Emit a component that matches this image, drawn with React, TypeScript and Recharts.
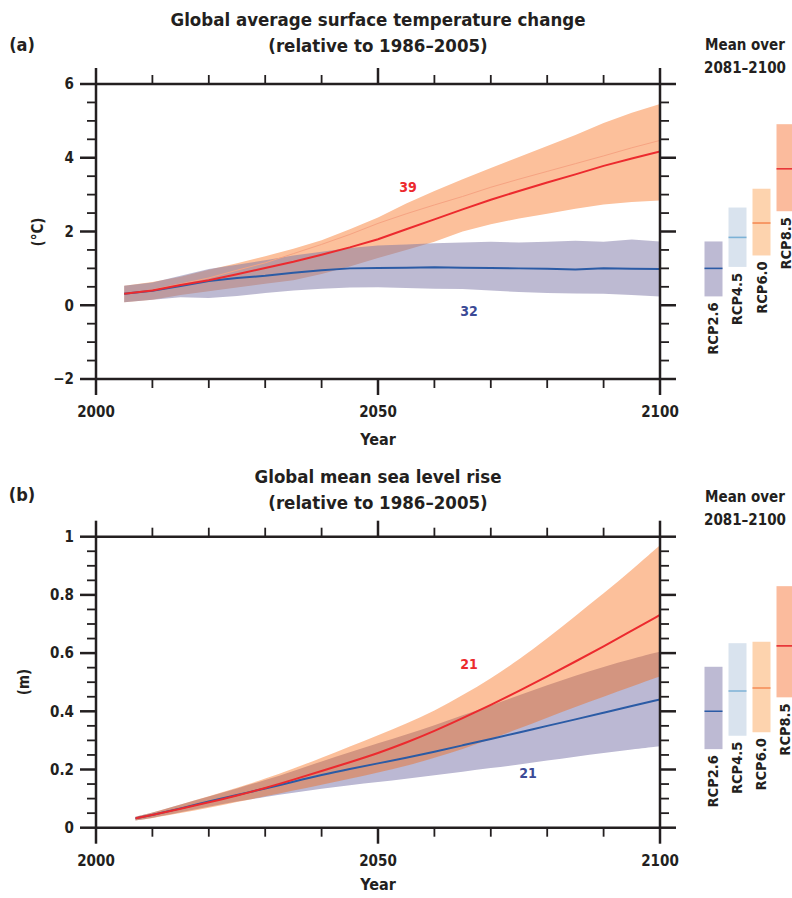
import React from 'react';
import { ComposedChart, Area, Line, XAxis, YAxis, BarChart, Bar } from 'recharts';

const FONT = '"Liberation Sans Narrow", "DejaVu Sans Condensed", "Arial Narrow", sans-serif';
const INK = '#231f20';
const RED = '#ec2a2e';
const BLUE = '#2b5ba5';

// (a) global average surface temperature change, read every 5 years
const tempYears = [2005, 2010, 2015, 2020, 2025, 2030, 2035, 2040, 2045, 2050, 2055, 2060, 2065, 2070, 2075, 2080, 2085, 2090, 2095, 2100];
const tempRcp85 = [0.31, 0.4, 0.55, 0.68, 0.84, 1.01, 1.18, 1.37, 1.57, 1.79, 2.06, 2.33, 2.6, 2.86, 3.1, 3.33, 3.55, 3.78, 3.98, 4.17];
const tempRcp85Low = [0.08, 0.15, 0.28, 0.38, 0.48, 0.58, 0.68, 0.85, 1.05, 1.28, 1.5, 1.72, 2.0, 2.2, 2.35, 2.48, 2.62, 2.73, 2.8, 2.84];
const tempRcp85High = [0.53, 0.63, 0.77, 0.96, 1.14, 1.33, 1.53, 1.76, 2.06, 2.38, 2.76, 3.1, 3.42, 3.72, 4.02, 4.32, 4.62, 4.94, 5.22, 5.46];
const tempRcp85Faint = [0.31, 0.42, 0.58, 0.74, 0.95, 1.15, 1.4, 1.65, 1.92, 2.22, 2.48, 2.72, 2.95, 3.2, 3.42, 3.63, 3.84, 4.05, 4.27, 4.47];
const tempRcp26 = [0.31, 0.39, 0.52, 0.66, 0.74, 0.8, 0.88, 0.95, 1.0, 1.01, 1.02, 1.03, 1.02, 1.01, 1.0, 0.99, 0.97, 1.0, 0.99, 0.98];
const tempRcp26Low = [0.08, 0.15, 0.22, 0.2, 0.25, 0.33, 0.4, 0.45, 0.48, 0.49, 0.47, 0.45, 0.44, 0.4, 0.36, 0.33, 0.32, 0.31, 0.28, 0.24];
const tempRcp26High = [0.53, 0.62, 0.8, 0.98, 1.1, 1.22, 1.35, 1.45, 1.55, 1.62, 1.65, 1.68, 1.7, 1.72, 1.7, 1.72, 1.75, 1.72, 1.78, 1.73];

// (b) global mean sea level rise
const seaYears = [2007, 2010, 2015, 2020, 2025, 2030, 2035, 2040, 2045, 2050, 2055, 2060, 2065, 2070, 2075, 2080, 2085, 2090, 2095, 2100];
const seaRcp85 = [0.032, 0.044, 0.065, 0.087, 0.11, 0.136, 0.165, 0.195, 0.225, 0.256, 0.292, 0.332, 0.376, 0.422, 0.47, 0.52, 0.571, 0.623, 0.677, 0.731];
const seaRcp85Low = [0.025, 0.033, 0.05, 0.068, 0.088, 0.108, 0.128, 0.148, 0.168, 0.189, 0.212, 0.24, 0.27, 0.305, 0.34, 0.378, 0.415, 0.45, 0.485, 0.52];
const seaRcp85High = [0.038, 0.052, 0.08, 0.108, 0.137, 0.168, 0.203, 0.24, 0.279, 0.318, 0.357, 0.401, 0.455, 0.513, 0.577, 0.65, 0.728, 0.805, 0.885, 0.971];
const seaRcp26 = [0.032, 0.044, 0.066, 0.09, 0.113, 0.134, 0.158, 0.182, 0.202, 0.221, 0.24, 0.261, 0.283, 0.305, 0.327, 0.35, 0.372, 0.395, 0.418, 0.441];
const seaRcp26Low = [0.025, 0.033, 0.053, 0.072, 0.09, 0.106, 0.12, 0.134, 0.146, 0.157, 0.168, 0.18, 0.192, 0.205, 0.217, 0.231, 0.244, 0.257, 0.269, 0.28];
const seaRcp26High = [0.038, 0.051, 0.08, 0.107, 0.135, 0.163, 0.195, 0.228, 0.26, 0.29, 0.32, 0.352, 0.386, 0.42, 0.455, 0.49, 0.523, 0.553, 0.58, 0.605];

// mean over 2081-2100 with likely ranges
const scenarios = ['RCP2.6', 'RCP4.5', 'RCP6.0', 'RCP8.5'];
const tempMean = [1.0, 1.84, 2.23, 3.7];
const tempLow = [0.24, 1.04, 1.35, 2.55];
const tempHigh = [1.73, 2.65, 3.16, 4.91];
const seaMean = [0.4, 0.47, 0.48, 0.625];
const seaLow = [0.27, 0.316, 0.328, 0.448];
const seaHigh = [0.553, 0.634, 0.639, 0.83];

const yearTicks = [2000, 2010, 2020, 2030, 2040, 2050, 2060, 2070, 2080, 2090, 2100];
const tempTicks = [-2, -1.5, -1, -0.5, 0, 0.5, 1, 1.5, 2, 2.5, 3, 3.5, 4, 4.5, 5, 5.5, 6];
const seaTicks = [0, 0.05, 0.1, 0.15, 0.2, 0.25, 0.3, 0.35, 0.4, 0.45, 0.5, 0.55, 0.6, 0.65, 0.7, 0.75, 0.8, 0.85, 0.9, 0.95, 1];

const barFill = ['#bdbad3', '#d9e3ee', '#fdd3ae', '#fbbb9d'];
const barMark = ['#2b5ba5', '#7cb2d6', '#f58b55', '#e8373a'];

const tempData = tempYears.map((year, i) => ({
  year,
  r85: tempRcp85[i],
  r85band: [tempRcp85Low[i], tempRcp85High[i]],
  r85faint: tempRcp85Faint[i],
  r26: tempRcp26[i],
  r26band: [tempRcp26Low[i], tempRcp26High[i]],
}));

const seaData = seaYears.map((year, i) => ({
  year,
  r85: seaRcp85[i],
  r85band: [seaRcp85Low[i], seaRcp85High[i]],
  r26: seaRcp26[i],
  r26band: [seaRcp26Low[i], seaRcp26High[i]],
}));

const tempBars = scenarios.map((name, i) => ({ name, range: [tempLow[i], tempHigh[i]], mean: tempMean[i] }));
const seaBars = scenarios.map((name, i) => ({ name, range: [seaLow[i], seaHigh[i]], mean: seaMean[i] }));

const onStep = (v: number, step: number) => Math.abs(v / step - Math.round(v / step)) < 1e-6;
const fmtNum = (v: number) => (v < 0 ? '\u2212' + Math.abs(v) : String(v));

const MAJOR = 16;
const MINOR = 9;

function makeTick(side: 'top' | 'bottom' | 'left' | 'right', step: number, labelled: boolean) {
  return (props: any) => {
    const { x, y, payload } = props;
    const v = payload.value;
    const major = onStep(v, step);
    const len = major ? MAJOR : MINOR;
    const w = major ? 2.5 : 1.8;
    let line;
    if (side === 'top') line = <line x1={x} y1={y} x2={x} y2={y - len} stroke={INK} strokeWidth={w} />;
    else if (side === 'bottom') line = <line x1={x} y1={y} x2={x} y2={y + len} stroke={INK} strokeWidth={w} />;
    else if (side === 'left') line = <line x1={x} y1={y} x2={x - len} y2={y} stroke={INK} strokeWidth={w} />;
    else line = <line x1={x} y1={y} x2={x + len} y2={y} stroke={INK} strokeWidth={w} />;
    let label = null;
    if (labelled && major) {
      if (side === 'bottom')
        label = (
          <text x={x} y={y + 33} dy="0.35em" textAnchor="middle" fontSize={15} fontWeight="bold" fill={INK}>
            {v}
          </text>
        );
      if (side === 'left')
        label = (
          <text x={x - 22} y={y} dy="0.35em" textAnchor="end" fontSize={15} fontWeight="bold" fill={INK}>
            {fmtNum(v)}
          </text>
        );
    }
    return (
      <g>
        {line}
        {label}
      </g>
    );
  };
}

function MeanBarShape(props: any) {
  const { x, y, width, height, payload, index } = props;
  const [lo, hi] = payload.range;
  const my = y + (height * (hi - payload.mean)) / (hi - lo);
  const tx = x + width / 2 + 5;
  const ty = y + height + 6;
  return (
    <g>
      <rect x={x} y={y} width={width} height={height} fill={barFill[index]} />
      <line x1={x} y1={my} x2={x + width} y2={my} stroke={barMark[index]} strokeWidth={1.6} />
      <text x={tx} y={ty} transform={`rotate(-90 ${tx} ${ty})`} textAnchor="end" fontSize={14.5} fontWeight="bold" fill={INK}>
        {payload.name}
      </text>
    </g>
  );
}

function Txt({ x, y, size = 17, color = INK, rotate = 0, children }: any) {
  return (
    <div
      style={{
        position: 'absolute',
        left: x,
        top: y,
        transform: `translate(-50%, -50%) rotate(${rotate}deg)`,
        fontSize: size,
        fontWeight: 'bold',
        color,
        whiteSpace: 'nowrap',
        lineHeight: 1,
      }}
    >
      {children}
    </div>
  );
}

const axisLine = { stroke: INK, strokeWidth: 2.5 };

export default function App() {
  return (
    <div
      style={{
        position: 'absolute',
        left: 0,
        top: 0,
        width: 792,
        height: 898,
        overflow: 'hidden',
        background: '#fff',
        fontFamily: FONT,
        color: INK,
      }}
    >
      {/* panel (a) */}
      <div style={{ position: 'absolute', left: 0, top: 0 }}>
        <ComposedChart width={700} height={460} data={tempData} margin={{ top: 83, right: 39, bottom: 80, left: 95 }}>
          <Area xAxisId="b" yAxisId="l" dataKey="r85band" type="linear" fill="#fcc09b" fillOpacity={1} stroke="none" isAnimationActive={false} />
          <Area xAxisId="b" yAxisId="l" dataKey="r26band" type="linear" fill="#7b75a5" fillOpacity={0.5} stroke="none" isAnimationActive={false} />
          <Line xAxisId="b" yAxisId="l" dataKey="r85faint" type="linear" stroke="#f6a382" strokeWidth={1} dot={false} isAnimationActive={false} />
          <Line xAxisId="b" yAxisId="l" dataKey="r26" type="linear" stroke={BLUE} strokeWidth={2} dot={false} isAnimationActive={false} />
          <Line xAxisId="b" yAxisId="l" dataKey="r85" type="linear" stroke={RED} strokeWidth={2} dot={false} isAnimationActive={false} />
          <XAxis xAxisId="b" dataKey="year" type="number" domain={[2000, 2100]} ticks={yearTicks} interval={0} height={1}
            tickSize={0} tickMargin={0} axisLine={axisLine} tickLine={false} tick={makeTick('bottom', 50, true)} allowDataOverflow />
          <XAxis xAxisId="t" orientation="top" dataKey="year" type="number" domain={[2000, 2100]} ticks={yearTicks} interval={0} height={1}
            tickSize={0} tickMargin={0} axisLine={axisLine} tickLine={false} tick={makeTick('top', 50, false)} allowDataOverflow />
          <YAxis yAxisId="l" type="number" domain={[-2, 6]} ticks={tempTicks} interval={0} width={1}
            tickSize={0} tickMargin={0} axisLine={axisLine} tickLine={false} tick={makeTick('left', 2, true)} allowDataOverflow />
          <YAxis yAxisId="r" orientation="right" type="number" domain={[-2, 6]} ticks={tempTicks} interval={0} width={1}
            tickSize={0} tickMargin={0} axisLine={axisLine} tickLine={false} tick={makeTick('right', 2, false)} allowDataOverflow />
        </ComposedChart>
      </div>
      <div style={{ position: 'absolute', left: 690, top: 0 }}>
        <BarChart width={110} height={460} data={tempBars} margin={{ top: 84, right: 2.5, bottom: 81, left: 11.5 }}>
          <XAxis dataKey="name" hide height={0} />
          <YAxis type="number" domain={[-2, 6]} hide width={0} allowDataOverflow />
          <Bar dataKey="range" barSize={18} shape={MeanBarShape} isAnimationActive={false} />
        </BarChart>
      </div>

      {/* panel (b) */}
      <div style={{ position: 'absolute', left: 0, top: 450 }}>
        <ComposedChart width={700} height={450} data={seaData} margin={{ top: 85.7, right: 39, bottom: 71.3, left: 95 }}>
          <Area xAxisId="b" yAxisId="l" dataKey="r26band" type="basis" fill="#bbb8d3" fillOpacity={1} stroke="none" isAnimationActive={false} />
          <Area xAxisId="b" yAxisId="l" dataKey="r85band" type="basis" fill="#f76105" fillOpacity={0.4} stroke="none" isAnimationActive={false} />
          <Line xAxisId="b" yAxisId="l" dataKey="r26" type="basis" stroke={BLUE} strokeWidth={2} dot={false} isAnimationActive={false} />
          <Line xAxisId="b" yAxisId="l" dataKey="r85" type="basis" stroke={RED} strokeWidth={2} dot={false} isAnimationActive={false} />
          <XAxis xAxisId="b" dataKey="year" type="number" domain={[2000, 2100]} ticks={yearTicks} interval={0} height={1}
            tickSize={0} tickMargin={0} axisLine={axisLine} tickLine={false} tick={makeTick('bottom', 50, true)} allowDataOverflow />
          <XAxis xAxisId="t" orientation="top" dataKey="year" type="number" domain={[2000, 2100]} ticks={yearTicks} interval={0} height={1}
            tickSize={0} tickMargin={0} axisLine={axisLine} tickLine={false} tick={makeTick('top', 50, false)} allowDataOverflow />
          <YAxis yAxisId="l" type="number" domain={[0, 1]} ticks={seaTicks} interval={0} width={1}
            tickSize={0} tickMargin={0} axisLine={axisLine} tickLine={false} tick={makeTick('left', 0.2, true)} allowDataOverflow />
          <YAxis yAxisId="r" orientation="right" type="number" domain={[0, 1]} ticks={seaTicks} interval={0} width={1}
            tickSize={0} tickMargin={0} axisLine={axisLine} tickLine={false} tick={makeTick('right', 0.2, false)} allowDataOverflow />
        </ComposedChart>
      </div>
      <div style={{ position: 'absolute', left: 690, top: 450 }}>
        <BarChart width={110} height={450} data={seaBars} margin={{ top: 86.7, right: 2.5, bottom: 72.3, left: 11.5 }}>
          <XAxis dataKey="name" hide height={0} />
          <YAxis type="number" domain={[0, 1]} hide width={0} allowDataOverflow />
          <Bar dataKey="range" barSize={18} shape={MeanBarShape} isAnimationActive={false} />
        </BarChart>
      </div>

      {/* texts */}
      <Txt x={378} y={20} size={18.5}>Global average surface temperature change</Txt>
      <Txt x={378} y={46} size={18.5}>(relative to 1986–2005)</Txt>
      <Txt x={22} y={45} size={18}>(a)</Txt>
      <Txt x={745} y={45} size={15}>Mean over</Txt>
      <Txt x={745} y={68} size={15}>2081–2100</Txt>
      <Txt x={378} y={440} size={16}>Year</Txt>
      <Txt x={38} y={232} size={15} rotate={-90}>(°C)</Txt>
      <Txt x={408} y={187} size={14} color={RED}>39</Txt>
      <Txt x={469} y={311} size={14} color="#3b4a96">32</Txt>

      <Txt x={378} y={477} size={18.5}>Global mean sea level rise</Txt>
      <Txt x={378} y={503} size={18.5}>(relative to 1986–2005)</Txt>
      <Txt x={22} y={495} size={18}>(b)</Txt>
      <Txt x={745} y={497} size={15}>Mean over</Txt>
      <Txt x={745} y={520} size={15}>2081–2100</Txt>
      <Txt x={378} y={885} size={16}>Year</Txt>
      <Txt x={24} y={682} size={15} rotate={-90}>(m)</Txt>
      <Txt x={469} y={664} size={14} color={RED}>21</Txt>
      <Txt x={528} y={773} size={14} color="#3b4a96">21</Txt>
    </div>
  );
}
